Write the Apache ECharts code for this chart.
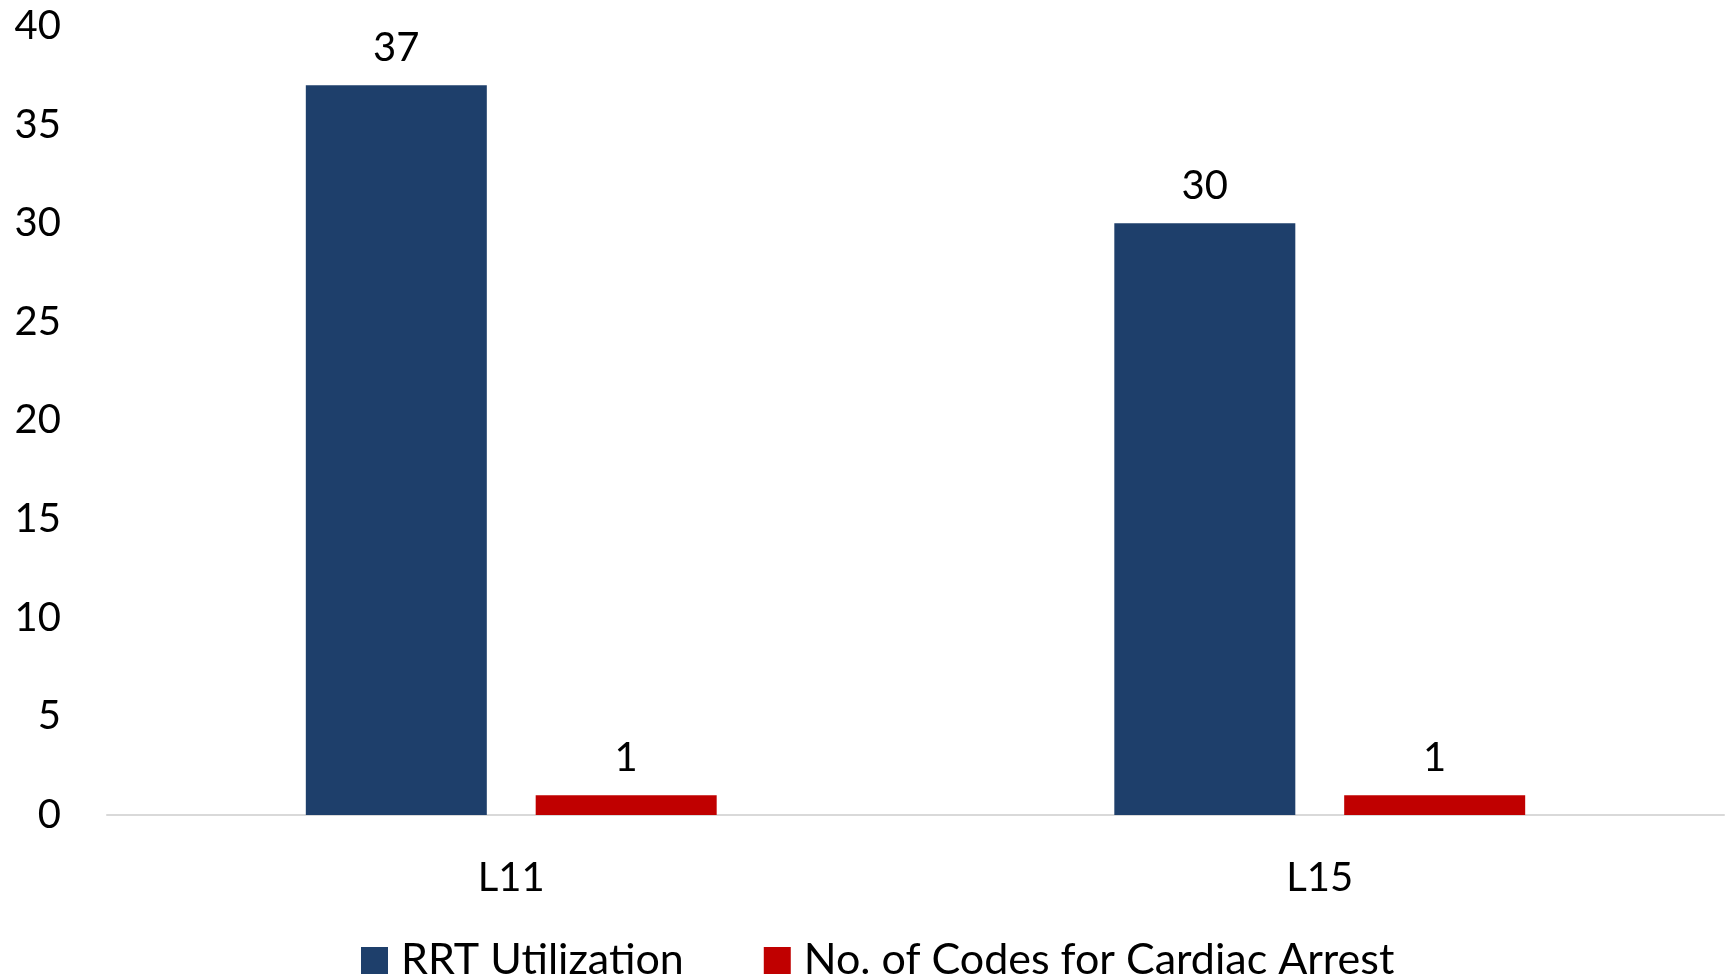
<!DOCTYPE html>
<html>
<head>
<meta charset="utf-8">
<script src="https://cdn.jsdelivr.net/npm/echarts@6/dist/echarts.min.js"></script>
<style>
    html, body { margin: 0; padding: 0; background: #fff; }
    #chart { width: 1727px; height: 977px; }
</style>
</head>
<body>
<div id="chart"></div>
<script>
// 单位分类
const categories = ['L11', 'L15']
// RRT 使用次数
const rrtValues = [37, 30]
// 心脏骤停呼叫次数
const codeValues = [1, 1]
const seriesNames = ['RRT Utilization', 'No. of Codes for Cardiac Arrest']
const yTicks = { min: 0, max: 40, interval: 5 }

const chartInstance = echarts.init(document.getElementById('chart'))
const font = 'Lato, "Open Sans", sans-serif'

const option = {
    animation: false,
    textStyle: { fontFamily: font },
    grid: {
        left: 107,
        right: 3,
        top: 26,
        bottom: 162,
    },
    legend: {
        top: 934,
        left: 356,
        itemWidth: 27,
        itemHeight: 27,
        itemGap: 80,
        icon: 'rect',
        textStyle: {
            fontFamily: font,
            fontSize: 43,
            color: '#000',
            padding: [0, 0, 0, 8],
        },
        data: seriesNames,
    },
    xAxis: {
        type: 'category',
        data: categories,
        axisLine: { lineStyle: { color: '#D9D9D9', width: 2 } },
        axisTick: { show: false },
        axisLabel: {
            color: '#000',
            fontSize: 40,
            fontFamily: font,
            margin: 43,
        },
    },
    yAxis: {
        type: 'value',
        min: yTicks.min,
        max: yTicks.max,
        interval: yTicks.interval,
        splitLine: { show: false },
        axisLine: { show: false },
        axisTick: { show: false },
        axisLabel: {
            color: '#000',
            fontSize: 40,
            fontFamily: font,
            margin: 46,
        },
    },
    series: [
        {
            name: seriesNames[0],
            type: 'bar',
            data: rrtValues,
            barWidth: 181,
            barGap: '27%',
            itemStyle: { color: '#1E3F6B' },
            label: {
                show: true,
                position: 'top',
                distance: 17,
                color: '#000',
                fontSize: 40,
                fontFamily: font,
            },
        },
        {
            name: seriesNames[1],
            type: 'bar',
            data: codeValues,
            barWidth: 181,
            barGap: '27%',
            itemStyle: { color: '#C00000' },
            label: {
                show: true,
                position: 'top',
                distance: 17,
                color: '#000',
                fontSize: 40,
                fontFamily: font,
            },
        },
    ],
}
chartInstance.setOption(option)
</script>
</body>
</html>
